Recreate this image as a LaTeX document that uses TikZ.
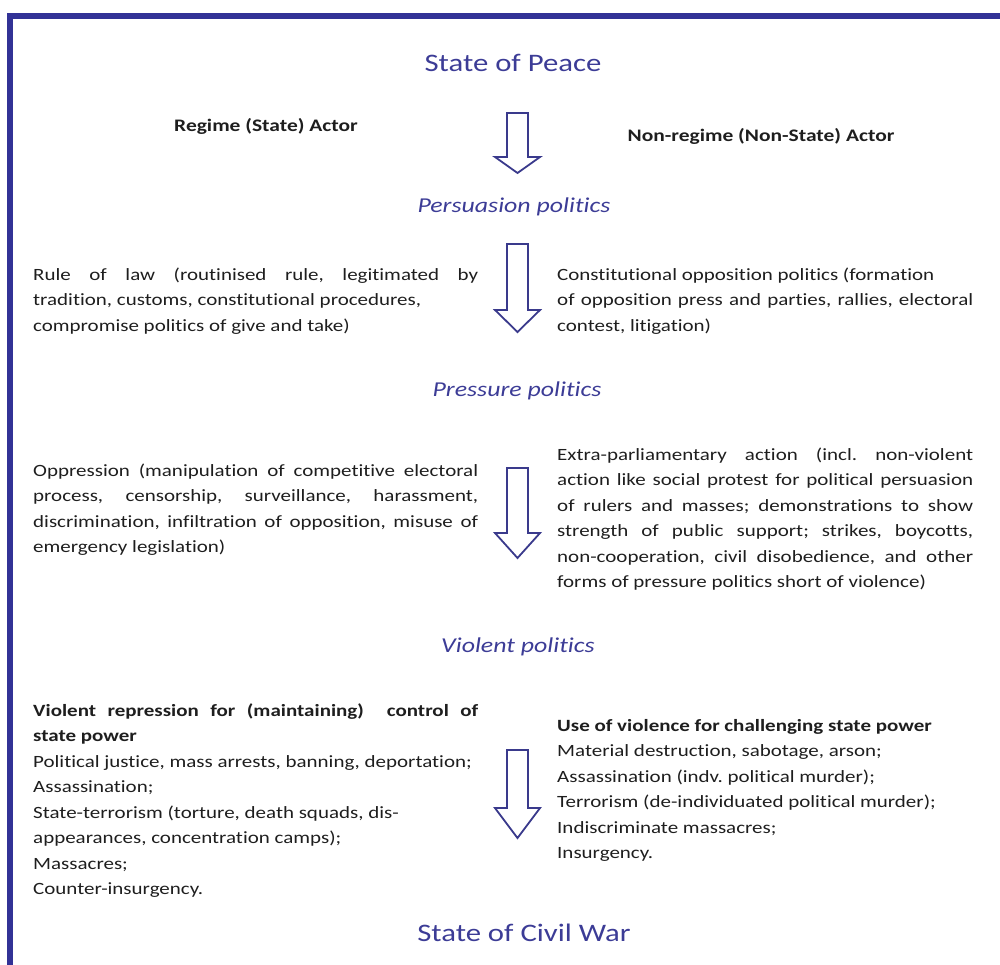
\documentclass[tikz,border=0pt]{standalone}
\usepackage{fontspec}
\setmainfont{Carlito}[FakeStretch=1.22,Ligatures=NoCommon]
\definecolor{framecol}{RGB}{50,50,150}
\definecolor{headblue}{RGB}{60,60,150}
\definecolor{arrowblue}{RGB}{58,58,140}
\definecolor{bodytext}{RGB}{30,30,30}
\hyphenpenalty=10000
\frenchspacing

\begin{document}
\begin{tikzpicture}[x=1pt,y=-1pt,
    body/.style={anchor=base west,inner sep=0pt,align=justify,text=bodytext,
      font=\fontsize{17.2}{25.5}\selectfont},
    lefttext/.style={body,text width=445pt},
    righttext/.style={body,text width=416pt},
    actor/.style={anchor=base,inner sep=0pt,text=bodytext,
      font=\fontsize{17.6}{21}\selectfont\bfseries},
    stage/.style={anchor=base,inner sep=0pt,text=headblue,
      font=\fontsize{25.2}{30}\selectfont},
    phase/.style={anchor=base,inner sep=0pt,text=headblue,
      font=\fontsize{21.2}{25}\selectfont\itshape},
    blockarrow/.style={draw=arrowblue,line width=1.8pt,fill=white,line join=miter}]
    \useasboundingbox (0,0) rectangle (1000,964);
    \draw[framecol,line width=6.5pt] (10,980) -- (10,15.75) -- (1010,15.75);

    \node[stage] (peace) at (513,71) {State of Peace};
    \node[actor] (regime) at (266,131) {Regime (State) Actor};
    \node[actor] (nonregime) at (761,141) {Non-regime (Non-State) Actor};

    \node[phase] (persuasion) at (514,212) {Persuasion politics};
    \node[lefttext] (law) at (33,280) {Rule of law (routinised rule, legitimated by\linebreak
      tradition, customs, constitutional procedures,\newline
      compromise politics of give and take)};
    \node[righttext] (constitutional) at (557,280) {Constitutional opposition politics (formation\newline
      of opposition press and parties, rallies, electoral\linebreak
      contest, litigation)};

    \node[phase] (pressure) at (517,396) {Pressure politics};
    \node[lefttext] (oppression) at (33,476) {Oppression (manipulation of competitive electoral\linebreak
      process, censorship, surveillance, harassment,\linebreak
      discrimination, infiltration of opposition, misuse of\linebreak
      emergency legislation)};
    \node[righttext] (extra) at (557,460) {Extra-parliamentary action (incl. non-violent\linebreak
      action like social protest for political persuasion\linebreak
      of rulers and masses; demonstrations to show\linebreak
      strength of public support; strikes, boycotts,\linebreak
      non-cooperation, civil disobedience, and other\linebreak
      forms of pressure politics short of violence)};

    \node[phase] (violent) at (518,652) {Violent politics};
    \node[lefttext] (repression) at (33,716) {\textbf{Violent repression for (maintaining)\ \ control of\linebreak
      state power}\newline
      Political justice, mass arrests, banning, deportation;\newline
      Assassination;\newline
      State-terrorism (torture, death squads, dis-\newline
      appearances, concentration camps);\newline
      Massacres;\newline
      Counter-insurgency.};
    \node[righttext] (challenge) at (557,731) {\textbf{Use of violence for challenging state power}\newline
      Material destruction, sabotage, arson;\newline
      Assassination (indv. political murder);\newline
      Terrorism (de-individuated political murder);\newline
      Indiscriminate massacres;\newline
      Insurgency.};

    \node[stage] (civilwar) at (524,941) {State of Civil War};

    \foreach \ya/\yb/\yc in {113/157/173,244/310/332,468/533/558,750/808/838}
      \draw[blockarrow] (507,\ya) -- (528,\ya) -- (528,\yb) -- (540,\yb) -- (517.5,\yc)
        -- (495,\yb) -- (507,\yb) -- cycle;
\end{tikzpicture}
\end{document}
